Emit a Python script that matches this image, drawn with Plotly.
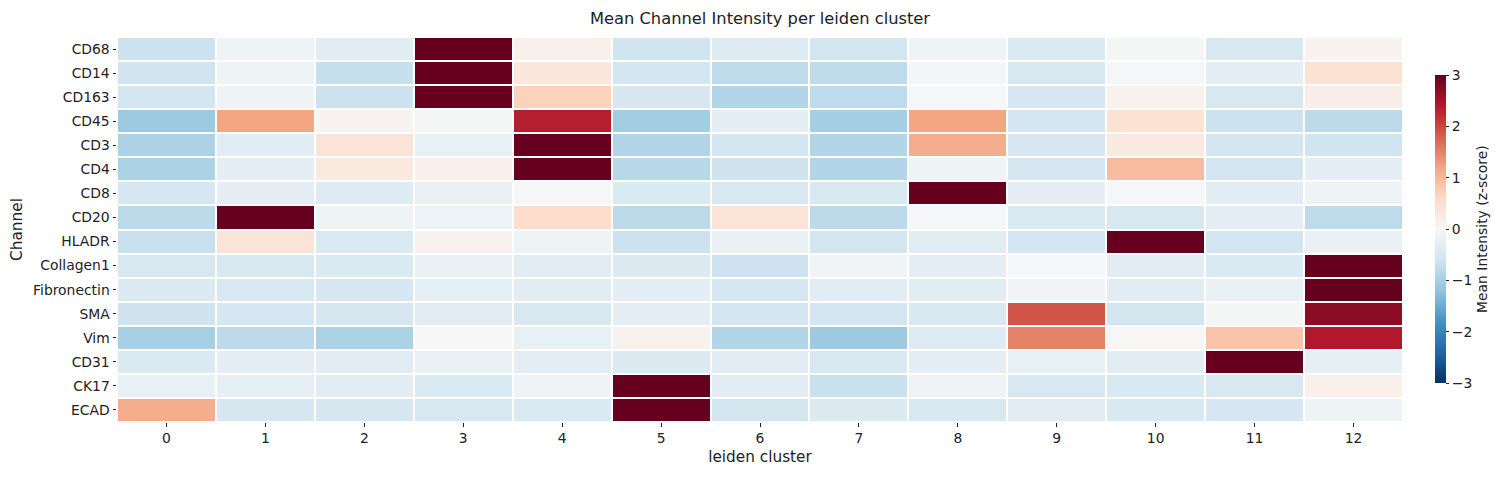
import plotly.graph_objects as go

channels = ["CD68", "CD14", "CD163", "CD45", "CD3", "CD4", "CD8", "CD20", "HLADR",
            "Collagen1", "Fibronectin", "SMA", "Vim", "CD31", "CK17", "ECAD"]
clusters = [str(i) for i in range(13)]

CD68 =        [-0.65, -0.15, -0.35, 3.3, 0.15, -0.60, -0.40, -0.58, -0.15, -0.45, -0.05, -0.47, 0.08]
CD14 =        [-0.60, -0.15, -0.70, 3.5, 0.35, -0.55, -0.78, -0.78, -0.07, -0.50, -0.03, -0.30, 0.45]
CD163 =       [-0.55, -0.15, -0.65, 3.5, 0.70, -0.52, -0.90, -0.78, -0.03, -0.52, 0.12, -0.50, 0.20]
CD45 =        [-1.10, 1.20, 0.08, -0.05, 2.35, -1.05, -0.30, -1.02, 1.20, -0.55, 0.45, -0.65, -0.80]
CD3 =         [-0.95, -0.35, 0.40, -0.25, 3.2, -0.90, -0.55, -0.90, 1.10, -0.52, 0.30, -0.55, -0.60]
CD4 =         [-0.95, -0.30, 0.30, 0.15, 3.3, -0.85, -0.62, -0.90, -0.15, -0.52, 0.95, -0.55, -0.30]
CD8 =         [-0.52, -0.30, -0.40, -0.22, -0.02, -0.45, -0.50, -0.47, 3.3, -0.30, -0.04, -0.35, -0.15]
CD20 =        [-0.80, 3.3, -0.15, -0.18, 0.55, -0.80, 0.40, -0.80, -0.03, -0.45, -0.50, -0.30, -0.78]
HLADR =       [-0.68, 0.40, -0.45, 0.12, -0.15, -0.65, -0.20, -0.58, -0.35, -0.55, 3.3, -0.55, -0.20]
Collagen1 =   [-0.50, -0.50, -0.45, -0.20, -0.33, -0.42, -0.63, -0.10, -0.30, -0.04, -0.33, -0.45, 3.3]
Fibronectin = [-0.42, -0.50, -0.52, -0.27, -0.35, -0.30, -0.53, -0.35, -0.35, -0.10, -0.35, -0.20, 3.4]
SMA =         [-0.62, -0.52, -0.52, -0.35, -0.50, -0.30, -0.55, -0.55, -0.48, 1.90, -0.58, -0.05, 2.70]
Vim =         [-1.00, -0.80, -0.95, 0.00, -0.25, 0.10, -0.90, -1.10, -0.40, 1.50, 0.02, 0.85, 2.40]
CD31 =        [-0.45, -0.30, -0.33, -0.20, -0.32, -0.42, -0.35, -0.48, -0.30, -0.25, -0.33, 3.3, -0.28]
CK17 =        [-0.25, -0.27, -0.33, -0.45, -0.12, 3.3, -0.35, -0.68, -0.12, -0.50, -0.47, -0.50, 0.15]
ECAD =        [1.10, -0.52, -0.52, -0.50, -0.45, 3.3, -0.58, -0.42, -0.48, -0.35, -0.48, -0.52, -0.15]

z = [CD68, CD14, CD163, CD45, CD3, CD4, CD8, CD20, HLADR,
     Collagen1, Fibronectin, SMA, Vim, CD31, CK17, ECAD]

rdbu_r = ["#053061", "#2166ac", "#4393c3", "#92c5de", "#d1e5f0", "#f7f7f7",
          "#fddbc7", "#f4a582", "#d6604d", "#b2182b", "#67001f"]
colorscale = [[i / 10, c] for i, c in enumerate(rdbu_r)]

FONT = "DejaVu Sans"
TXT = "#222"

fig = go.Figure(go.Heatmap(
    z=z, x=clusters, y=channels,
    colorscale=colorscale, zmin=-3, zmax=3,
    xgap=2, ygap=2,
    colorbar=dict(
        title=dict(text="Mean Intensity (z-score)", side="right",
                   font=dict(family=FONT, size=13.9, color=TXT)),
        thickness=11, len=0.8, lenmode="fraction", y=0.501, yanchor="middle",
        x=(1435 - 117) / 1286, xanchor="left", xpad=0, ypad=0, outlinewidth=0,
        tickvals=[-3, -2, -1, 0, 1, 2, 3],
        ticktext=["\u22123", "\u22122", "\u22121", "0", "1", "2", "3"],
        ticks="outside", ticklen=3.5, tickcolor=TXT,
        tickfont=dict(family=FONT, size=13.9, color=TXT),
    ),
))

fig.update_layout(
    width=1504, height=477,
    margin=dict(l=117, r=101, t=37, b=55, autoexpand=False),
    paper_bgcolor="white", plot_bgcolor="white",
    font=dict(family=FONT, size=13.9, color=TXT),
    title=dict(text="Mean Channel Intensity per leiden cluster", x=0.5, xanchor="center",
               xref="paper", y=1 - 18 / 477, yanchor="middle",
               font=dict(family=FONT, size=16.3, color=TXT)),
)
fig.update_xaxes(title=dict(text="leiden cluster", font=dict(size=15.3), standoff=6),
                 ticks="outside", ticklen=3.5, tickcolor=TXT, showgrid=False,
                 zeroline=False, showline=False, tickfont=dict(size=13.9))
fig.update_yaxes(title=dict(text="Channel", font=dict(size=15.3), standoff=6),
                 ticks="outside", ticklen=3.5, tickcolor=TXT, showgrid=False,
                 zeroline=False, showline=False, autorange="reversed",
                 tickfont=dict(size=13.9))

fig.write_html("out.html")
